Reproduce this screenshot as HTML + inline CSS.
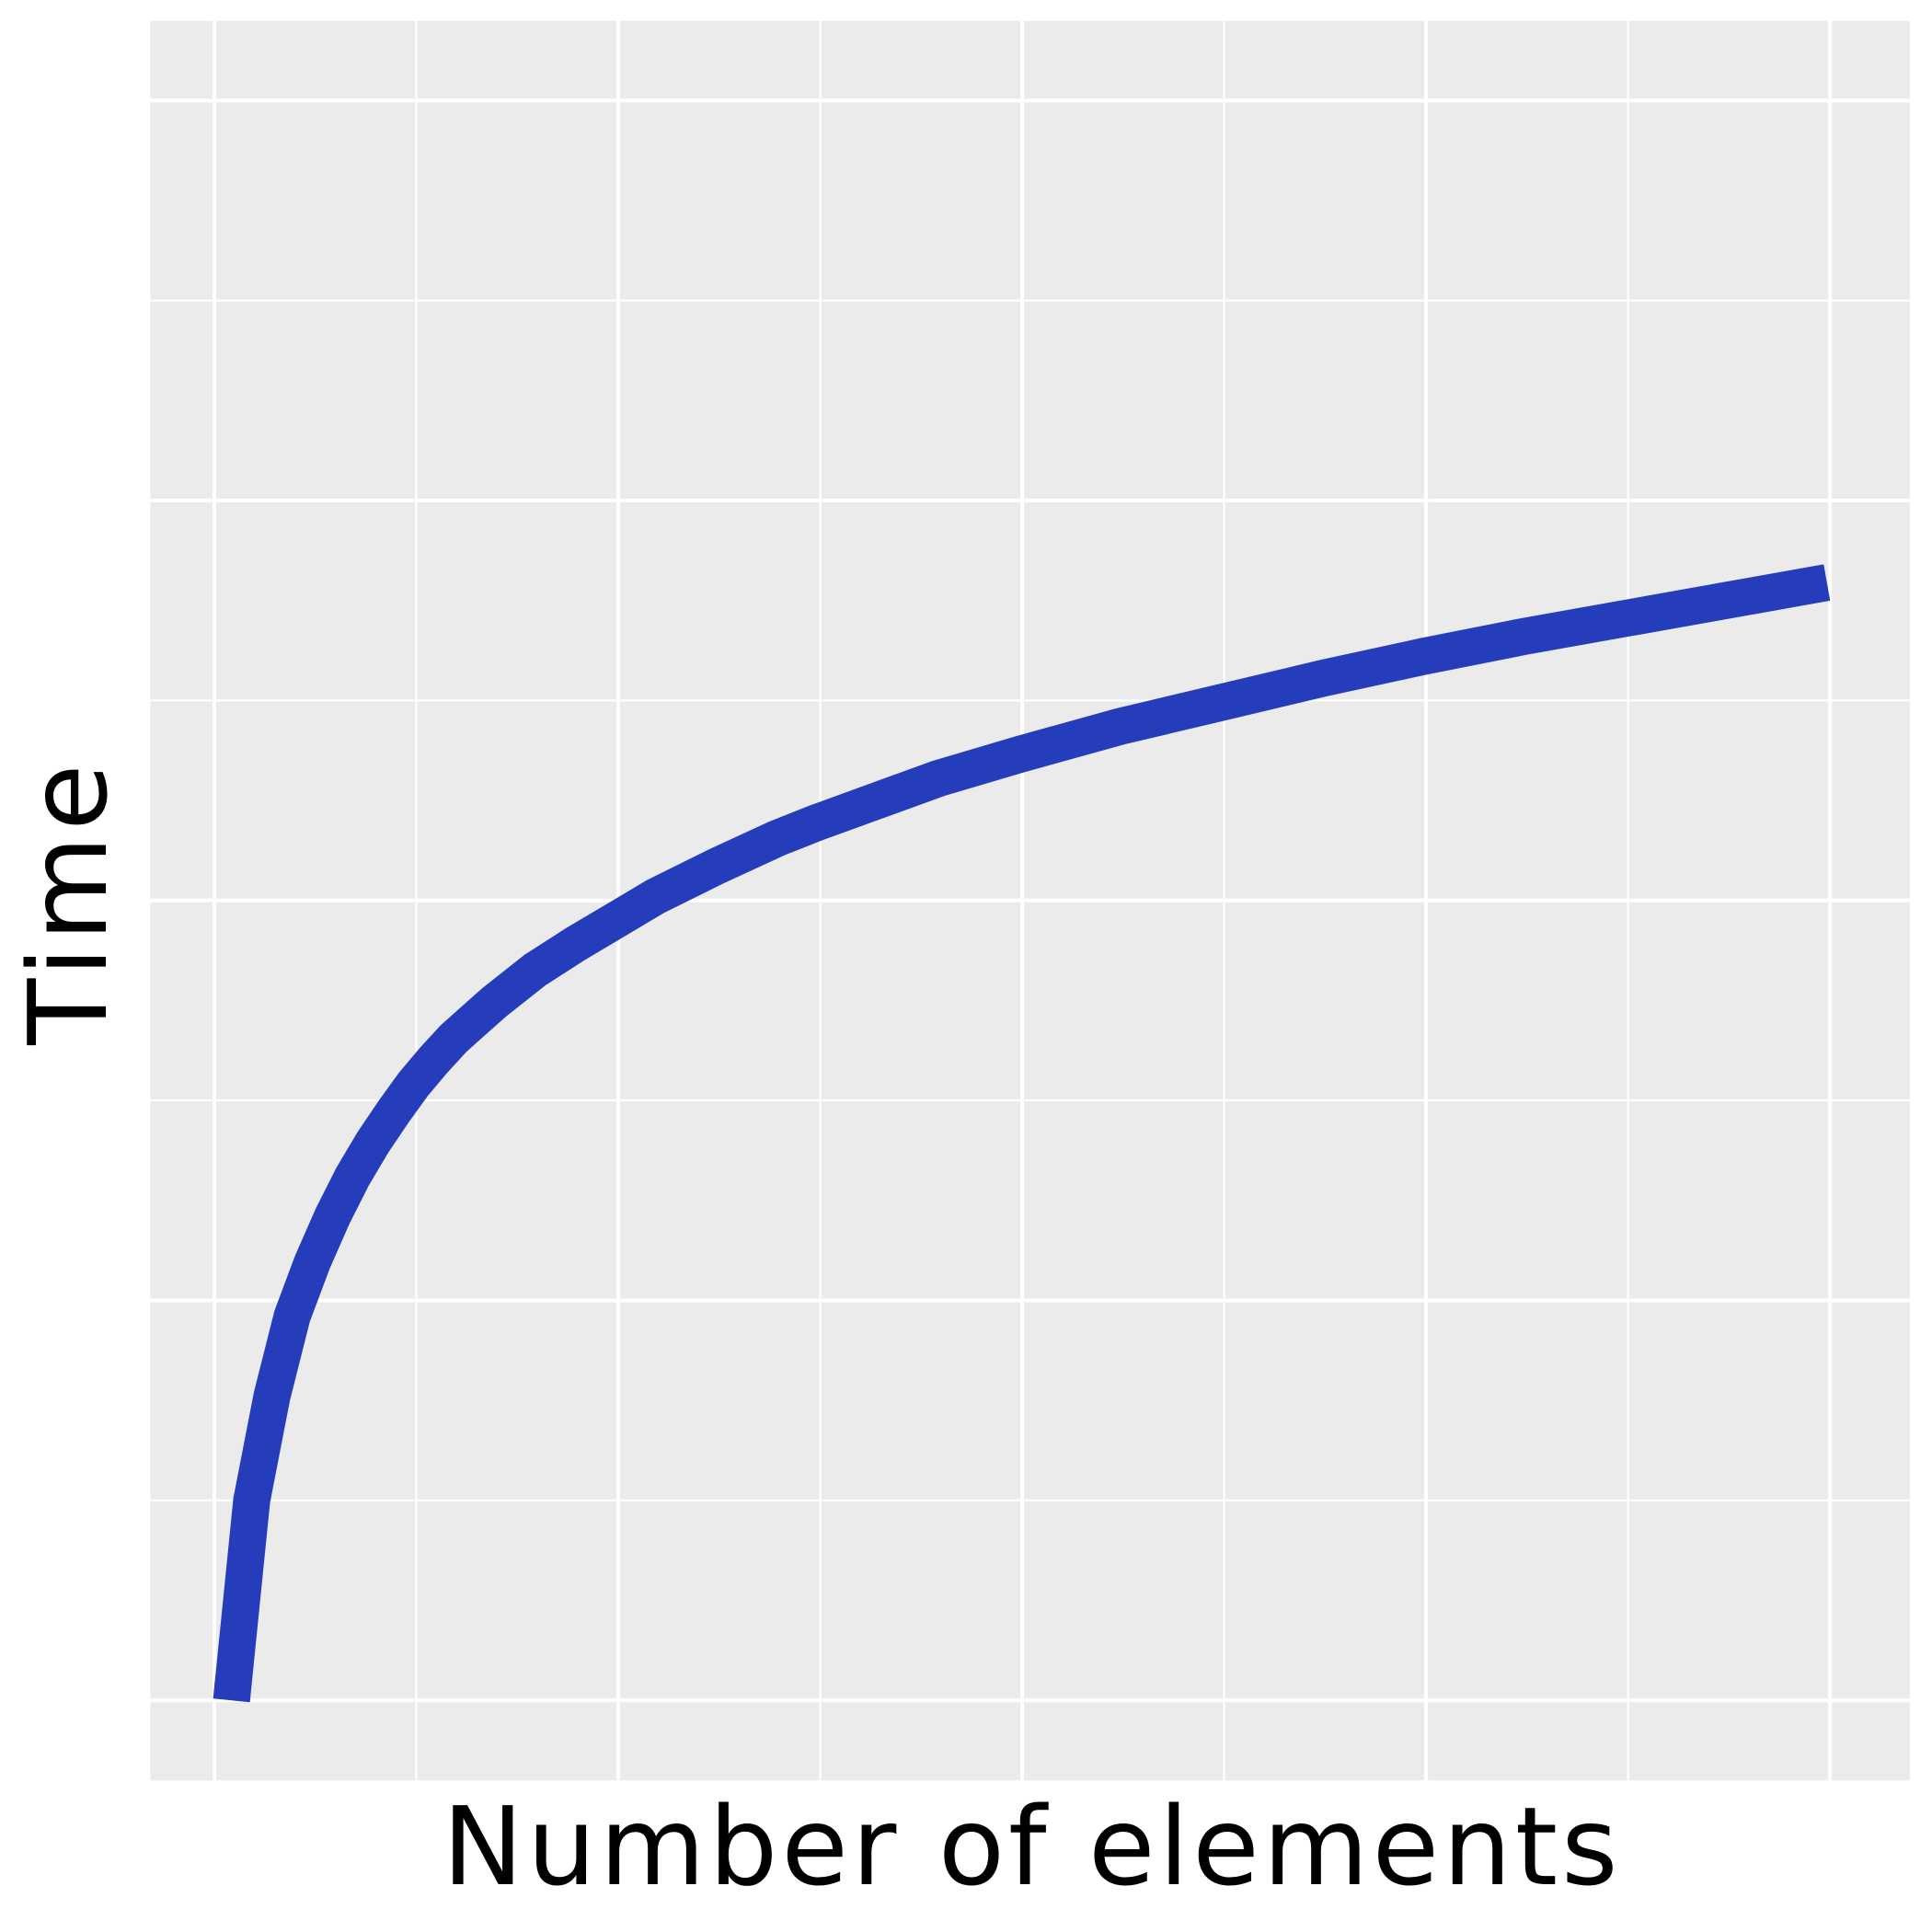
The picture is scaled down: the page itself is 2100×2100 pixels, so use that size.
<!DOCTYPE html>
<html><head><meta charset="utf-8"><style>html,body{margin:0;padding:0;background:#fff}svg{display:block}</style></head>
<body>
<svg id="chart" width="2100" height="2100" viewBox="0 0 1568 1568" xmlns="http://www.w3.org/2000/svg">
<rect x="122" y="17" width="1428" height="1428" fill="#ebebeb"/>
<g id="grid"></g>
<polyline id="series" fill="none" stroke="#253dbb" stroke-width="30" stroke-linejoin="round" stroke-linecap="butt"/>
<text x="836" y="1529" text-anchor="middle" font-family="DejaVu Sans, Liberation Sans, sans-serif" font-size="88" textLength="954" fill="#000">Number of elements</text>
<text transform="translate(86,734) rotate(-90)" text-anchor="middle" font-family="DejaVu Sans, Liberation Sans, sans-serif" font-size="88" textLength="228" fill="#000">Time</text>
</svg>
<script>
const xValues = [1,2,3,4,5,6,7,8,9,10,11,12,13,14,15,16,18,20,22,25,28,30,33,36,40,45,50,55,60,65,70,75,80];
const yValues = [0,1.0,1.52,1.92,2.19,2.42,2.62,2.79,2.94,3.08,3.20,3.31,3.40,3.49,3.57,3.65,3.78,3.90,4.02,4.17,4.31,4.39,4.50,4.61,4.73,4.87,4.99,5.11,5.22,5.32,5.41,5.50,5.59];
const xMajor = [0,20,40,60,80];
const xMinor = [10,30,50,70];
const yMajor = [0,2,4,6,8];
const yMinor = [1,3,5,7];
const xs = v => 174 + v * 16.39;
const ys = v => 1380 - v * 162.3;
const NS = 'http://www.w3.org/2000/svg';
const g = document.getElementById('grid');
function line(x1,y1,x2,y2,w,name){
  const l = document.createElementNS(NS,'line');
  l.setAttribute('x1',x1);l.setAttribute('y1',y1);l.setAttribute('x2',x2);l.setAttribute('y2',y2);
  l.setAttribute('stroke','#fff');l.setAttribute('stroke-width',w);
  
  
  g.appendChild(l);
}
yMinor.forEach(v=>line(122,ys(v),1550,ys(v),1.6,'y-minor-gridline'));
xMinor.forEach(v=>line(xs(v),17,xs(v),1445,1.6,'x-minor-gridline'));
yMajor.forEach(v=>line(122,ys(v),1550,ys(v),3,'y-major-gridline'));
xMajor.forEach(v=>line(xs(v),17,xs(v),1445,3,'x-major-gridline'));
const pts = xValues.map((x,i)=>(xs(x)-2.5)+','+ys(yValues[i])).join(' ');
document.getElementById('series').setAttribute('points',pts);
</script>
</body></html>
